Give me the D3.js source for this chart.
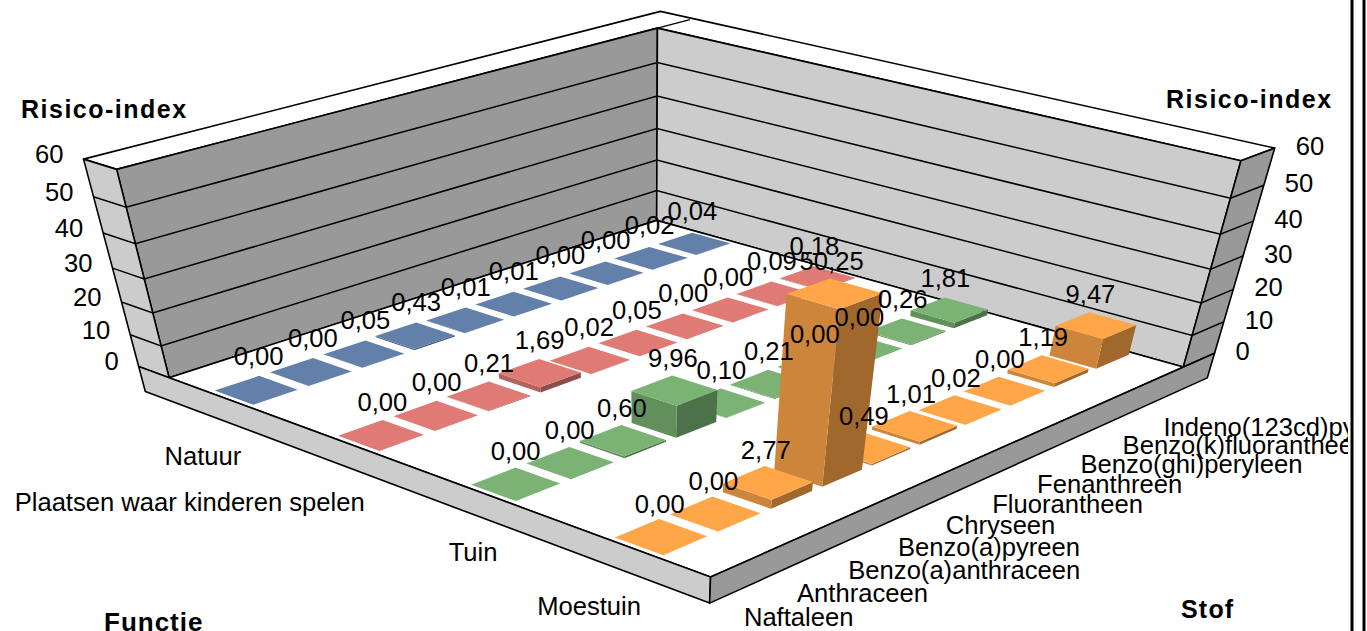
<!DOCTYPE html>
<html><head><meta charset="utf-8"><script src="https://cdnjs.cloudflare.com/ajax/libs/d3/7.8.5/d3.min.js"></script>
<style>html,body{margin:0;padding:0;background:#fff}svg{display:block}text{font-family:"Liberation Sans",Arial,sans-serif;fill:#000}</style></head><body>
<svg id="c" width="1367" height="631"></svg>
<script>
const stof=["Naftaleen","Anthraceen","Benzo(a)anthraceen","Benzo(a)pyreen","Chryseen","Fluorantheen","Fenanthreen","Benzo(ghi)peryleen","Benzo(k)fluorantheen","Indeno(123cd)pyreen"];
const functie=["Natuur","Plaatsen waar kinderen spelen","Tuin","Moestuin"];
const natuur=[0,0,0.05,0.43,0.01,0.01,0,0,0.02,0.04];
const plaatsen=[0,0,0.21,1.69,0.02,0.05,0,0,0.09,0.18];
const tuin=[0,0,0.60,9.96,0.10,0.21,0,0,0.26,1.81];
const moestuin=[0,0,2.77,50.25,0.49,1.01,0.02,0,1.19,9.47];
const valueTicks=[0,10,20,30,40,50,60];
const seriesColors=["#6380ab","#e07a74","#7ab373","#ffa648"];
const series=[natuur,plaatsen,tuin,moestuin];

// Camera fitted to reference points of the chart box: [u,v,w, px,py]
const cal=[[0,0,0,169,378],[1,0,0,657,220],[0,1,0,710.5,577],[1,1,0,1183,367],
[0,0,1,117,169],[1,0,1,657,28],[1,1,1,1241,161],
[0,0,.5,144,279],[1,0,.5,657,129],[1,1,.5,1211,269]];
function solve(A,b){const n=b.length;A=A.map((r,i)=>[...r,b[i]]);
 for(let i=0;i<n;i++){let p=i;for(let k=i+1;k<n;k++)if(Math.abs(A[k][i])>Math.abs(A[p][i]))p=k;[A[i],A[p]]=[A[p],A[i]];
  for(let k=i+1;k<n;k++){const f=A[k][i]/A[i][i];for(let j=i;j<=n;j++)A[k][j]-=f*A[i][j];}}
 const x=Array(n).fill(0);for(let i=n-1;i>=0;i--){let s=A[i][n];for(let j=i+1;j<n;j++)s-=A[i][j]*x[j];x[i]=s/A[i][i];}return x;}
const rows=[],rhs=[];
cal.forEach(([u,v,w,x,y])=>{const X=x/1000,Y=y/1000;
 rows.push([u,v,w,1,0,0,0,0,-X*u,-X*v,-X*w]);rhs.push(X);
 rows.push([0,0,0,0,u,v,w,1,-Y*u,-Y*v,-Y*w]);rhs.push(Y);});
const ATA=Array.from({length:11},(_,i)=>Array.from({length:11},(_,j)=>d3.sum(rows,r=>r[i]*r[j])));
const ATb=Array.from({length:11},(_,i)=>d3.sum(rows,(r,k)=>r[i]*rhs[k]));
const m=solve(ATA,ATb);
function P(u,v,w){const d=m[8]*u+m[9]*v+m[10]*w+1;return [1000*(m[0]*u+m[1]*v+m[2]*w+m[3])/d,1000*(m[4]*u+m[5]*v+m[6]*w+m[7])/d];}

const U=d3.scaleBand().domain(stof).range([0,1]).paddingInner(.2).paddingOuter(.1);
const V=d3.scaleBand().domain(functie).range([0,1]).paddingInner(.68).paddingOuter(.34);
const W=d3.scaleLinear().domain([0,60]).range([0,1]);
const tV=.066,tU=.079,base=-.135;

const svg=d3.select("#c");
const line=d3.line();
function face(g,pts,fill,stroke){return g.append("path").attr("d",line(pts)+"Z").attr("fill",fill).attr("stroke",stroke||"none").attr("stroke-width",stroke?1.6:0).attr("stroke-linejoin","round");}
const box=svg.append("g");
const K="#000";
// top rim
face(box,[P(0,-tV,1),P(1+tU,-tV,1),P(1+tU,1,1),P(1,1,1),P(1,0,1),P(0,0,1)],"#fff",K);
box.append("path").attr("d",line([P(1,0,1),P(1+tU*.9,0,1)])).attr("stroke",K).attr("stroke-width",1.4).attr("fill","none");
// walls
face(box,[P(0,0,0),P(1,0,0),P(1,0,1),P(0,0,1)],"#999",K);
face(box,[P(1,0,0),P(1,1,0),P(1,1,1),P(1,0,1)],"#ccc",K);
face(box,[P(0,-tV,0),P(0,0,0),P(0,0,1),P(0,-tV,1)],"#ccc",K);
face(box,[P(1,1,0),P(1+tU,1,0),P(1+tU,1,1),P(1,1,1)],"#999",K);
// floor
face(box,[P(0,0,0),P(1,0,0),P(1,1,0),P(0,1,0)],"#fff",K);
// base
face(box,[P(0,-tV,0),P(0,1,0),P(0,1,base),P(0,-tV,base)],"#ccc",K);
face(box,[P(0,1,0),P(1+tU,1,0),P(1+tU,1,base),P(0,1,base)],"#999",K);
// gridlines
valueTicks.slice(1,-1).forEach(t=>{const w=W(t);
 box.append("path").attr("d",line([P(0,-tV,w),P(0,0,w),P(1,0,w),P(1,1,w),P(1+tU,1,w)])).attr("fill","none").attr("stroke",K).attr("stroke-width",1.5);});
// bars back to front
const bars=svg.append("g");
functie.forEach((f,ri)=>{
 const base0=d3.color(seriesColors[ri]);
 const left=base0.darker(.62).formatHex(),right=base0.darker(1.3).formatHex();
 for(let ci=stof.length-1;ci>=0;ci--){
  const s=stof[ci],u0=U(s),u1=u0+U.bandwidth(),v0=V(f),v1=v0+V.bandwidth(),h=W(series[ri][ci]);
  face(bars,[P(u0,v1,0),P(u1,v1,0),P(u1,v1,h),P(u0,v1,h)],right);
  face(bars,[P(u0,v0,0),P(u0,v1,0),P(u0,v1,h),P(u0,v0,h)],left);
  face(bars,[P(u0,v0,h),P(u1,v0,h),P(u1,v1,h),P(u0,v1,h)],seriesColors[ri]);
 }});
const FS=25.6;
// value labels
const labelDx=d3.scaleLinear().domain([255,1094]).range([2.5,-5.5]);
const labelDy=d3.scaleLinear().domain([255,1094]).range([-25,-22.5]);
const labels=svg.append("g").attr("font-size",FS);
functie.forEach((f,ri)=>stof.forEach((s,ci)=>{
 const val=series[ri][ci],p=P(U(s)+U.bandwidth()/2,V(f)+V.bandwidth()/2,W(val));
 labels.append("text").attr("x",p[0]+labelDx(p[0])).attr("y",p[1]+labelDy(p[0])).attr("text-anchor","middle").text(val.toFixed(2).replace(".",","));
}));
// value axes
const ax=svg.append("g").attr("font-size",FS);
valueTicks.forEach(t=>{const a=P(0,-tV,W(t)),b=P(1+tU,1,W(t));
 ax.append("text").attr("x",a[0]-20).attr("y",a[1]+4).attr("text-anchor","end").text(t);
 ax.append("text").attr("x",b[0]+21).attr("y",b[1]+7).text(t);});
// category axes
svg.append("clipPath").attr("id","cl").append("rect").attr("x",0).attr("y",0).attr("width",1348).attr("height",631);
const cat=svg.append("g").attr("font-size",FS).attr("clip-path","url(#cl)");
functie.forEach(f=>{const p=P(0,V(f)+V.bandwidth()/2,base);
 cat.append("text").attr("x",p[0]+7.5).attr("y",p[1]+40).attr("text-anchor","end").text(f);});
stof.forEach(s=>{const p=P(U(s)+U.bandwidth()/2,1,base);
 cat.append("text").attr("x",p[0]+7).attr("y",p[1]+35).text(s);});
// titles
const tt=svg.append("g").attr("font-size",25).attr("font-weight","bold").attr("letter-spacing",1.5);
tt.append("text").attr("x",21).attr("y",118).text("Risico-index");
tt.append("text").attr("x",1166).attr("y",108).text("Risico-index");
tt.append("text").attr("x",104).attr("y",631).attr("letter-spacing",1).attr("font-size",26).text("Functie");
tt.append("text").attr("x",1181).attr("y",618).attr("letter-spacing",1.2).text("Stof");
// page frame
svg.append("line").attr("x1",1352).attr("x2",1352).attr("y1",0).attr("y2",631).attr("stroke","#000").attr("stroke-width",3);
svg.append("line").attr("x1",1364).attr("x2",1364).attr("y1",0).attr("y2",631).attr("stroke","#000").attr("stroke-width",3);
</script></body></html>
